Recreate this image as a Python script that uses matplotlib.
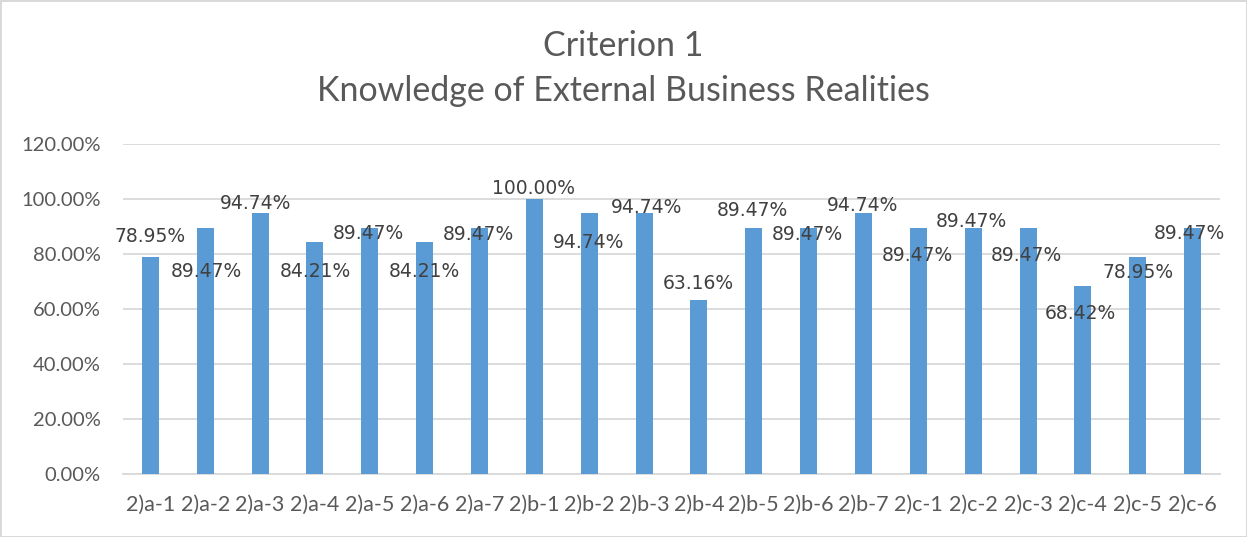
import matplotlib.pyplot as plt
import numpy as np

# categories and values (percent)
categories = ["2)a-1", "2)a-2", "2)a-3", "2)a-4", "2)a-5", "2)a-6", "2)a-7",
              "2)b-1", "2)b-2", "2)b-3", "2)b-4", "2)b-5", "2)b-6", "2)b-7",
              "2)c-1", "2)c-2", "2)c-3", "2)c-4", "2)c-5", "2)c-6"]
values = [78.95, 89.47, 94.74, 84.21, 89.47, 84.21, 89.47,
          100.00, 94.74, 94.74, 63.16, 89.47, 89.47, 94.74,
          89.47, 89.47, 89.47, 68.42, 78.95, 89.47]
yticks = [0, 20, 40, 60, 80, 100, 120]

# label offsets relative to bar top (pixels, up positive) - as placed in the original
label_dx = [0, 1, -5, 0, -1, 0, -1, -1, -1, 2, -1, -1, -1, -1, -1, -2, -2, -2, 0, -3]
label_dy = [20, -44, 10, -29, -6, -29, -7, 10, -29, 6, 17, 17, -7, 8, -28, 6, -28, -28, -16, -6]

BAR = "#5B9BD5"
GRID = "#D9D9D9"
TXT = "#595959"
LBL = "#404040"
plt.rcParams['font.family'] = ['Lato', 'DejaVu Sans']

fig = plt.figure(figsize=(12.47, 5.37), dpi=100)
fig.patch.set_edgecolor(GRID)
fig.patch.set_linewidth(2)
ax = fig.add_axes([123 / 1247, 63 / 537, 1097 / 1247, 330 / 537])

x = np.arange(len(categories))
ax.bar(x, values, width=0.31, color=BAR, zorder=3)
ax.set_xlim(-0.5, len(categories) - 0.5)
ax.set_ylim(0, 120)
ax.set_yticks(yticks)
ax.set_yticklabels([f"{t:.2f}%" for t in yticks])
ax.set_xticks(x)
ax.set_xticklabels(categories)
ax.tick_params(axis='y', length=0, pad=16, labelsize=14.5, labelcolor=TXT)
ax.tick_params(axis='x', length=0, pad=15, labelsize=15.5, labelcolor=TXT)
ax.grid(axis='y', color=GRID, linewidth=1.3, zorder=0)
for s in ['top', 'right', 'left']:
    ax.spines[s].set_visible(False)
ax.spines['bottom'].set_color(GRID)
ax.spines['bottom'].set_linewidth(1.3)

for i, v in enumerate(values):
    ax.annotate(f"{v:.2f}%", (x[i], v), xytext=(label_dx[i], label_dy[i]),
                textcoords='offset pixels', ha='center', va='center',
                fontsize=13.5, color=LBL, family='DejaVu Sans', zorder=4)

fig.text(0.5, 1 - 46 / 537, "Criterion 1", ha='center', va='center',
         fontsize=24.5, color=TXT)
fig.text(0.5, 1 - 91 / 537, "Knowledge of External Business Realities",
         ha='center', va='center', fontsize=24.5, color=TXT)

fig.savefig("out.png", dpi=100, edgecolor=fig.get_edgecolor())
